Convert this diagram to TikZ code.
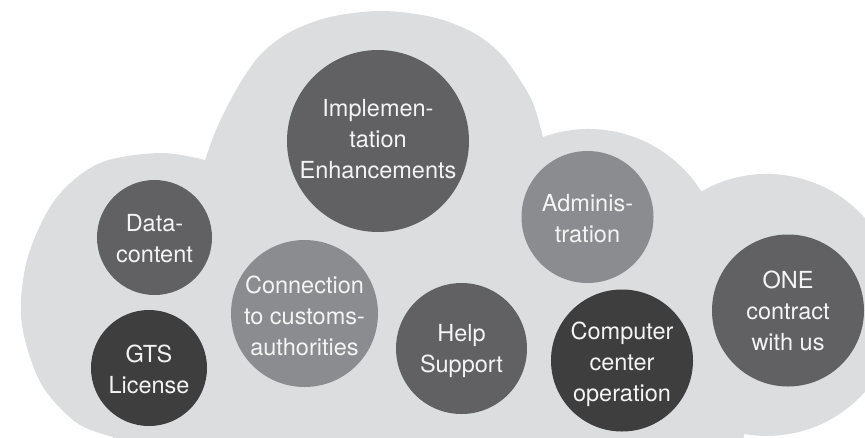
\documentclass[tikz,border=0pt]{standalone}
\usepackage{fontspec}
\setmainfont{TeX Gyre Heros}
\definecolor{cloudgray}{HTML}{DCDDDF}
\definecolor{bubdark}{HTML}{616163}
\definecolor{bubdarkest}{HTML}{3E3E3F}
\definecolor{bubmid}{HTML}{8B8C8F}
\definecolor{txtwhite}{HTML}{F4F4F4}
\tikzset{
  bubble/.style={circle, inner sep=0pt, draw=none},
  bubtext/.style={align=center, text=txtwhite, inner sep=0pt,
    font=\fontsize{23.5}{31}\selectfont},
}
\begin{document}
\begin{tikzpicture}[x=1pt,y=-1pt]
\useasboundingbox (0,0) rectangle (865,437);
\clip (0,0) rectangle (865,437);
\fill[white] (0,0) rectangle (865,437);
% cloud
\fill[cloudgray] (125,480)
  -- plot[smooth, tension=0.55] coordinates {(113,437) (77,423) (43,387) (25,340) (21,300) (30,250) (57,197) (100,163) (160,153) (205,160)}
  -- plot[smooth, tension=0.55] coordinates {(205,160) (216,130) (229,103) (244,77) (262,53) (290,32) (330,17) (381,11) (432,17) (472,32) (500,53) (518,77) (533,103) (543,137)}
  arc[start angle=-110, end angle=-32, radius=133]
  arc[start angle=-120, end angle=100, radius=131]
  -- (740,480) -- cycle;
% bubbles
\node[bubble, fill=bubdark, minimum size=182pt] (impl) at (378,141) {};
\node[bubble, fill=bubdark, minimum size=115pt] (data) at (154.5,237.5) {};
\node[bubble, fill=bubdarkest, minimum size=116pt] (gts) at (149,368) {};
\node[bubble, fill=bubmid, minimum size=147pt] (conn) at (304.5,313.5) {};
\node[bubble, fill=bubdark, minimum size=131pt] (help) at (461.5,348.5) {};
\node[bubble, fill=bubdarkest, minimum size=142pt] (comp) at (622,360.5) {};
\node[bubble, fill=bubmid, minimum size=132pt] (admin) at (587.5,217) {};
\node[bubble, fill=bubdark, minimum size=152pt] (one) at (788,310.5) {};
% texts
\node[bubtext] (implT) at (378,139.3) {Implemen-\\tation\\Enhancements};
\node[bubtext] (dataT) at (154.5,238.5) {Data-\\content};
\node[bubtext] (gtsT) at (149,369.5) {GTS\\License};
\node[bubtext] (connT) at (304.5,316) {Connection\\to customs-\\authorities};
\node[bubtext] (helpT) at (461.5,350.5) {Help\\Support};
\node[bubtext] (compT) at (622,364) {Computer\\center\\operation};
\node[bubtext] (adminT) at (587.5,218.5) {Adminis-\\tration};
\node[bubtext] (oneT) at (788,310.7) {ONE\\contract\\with us};
\end{tikzpicture}
\end{document}
